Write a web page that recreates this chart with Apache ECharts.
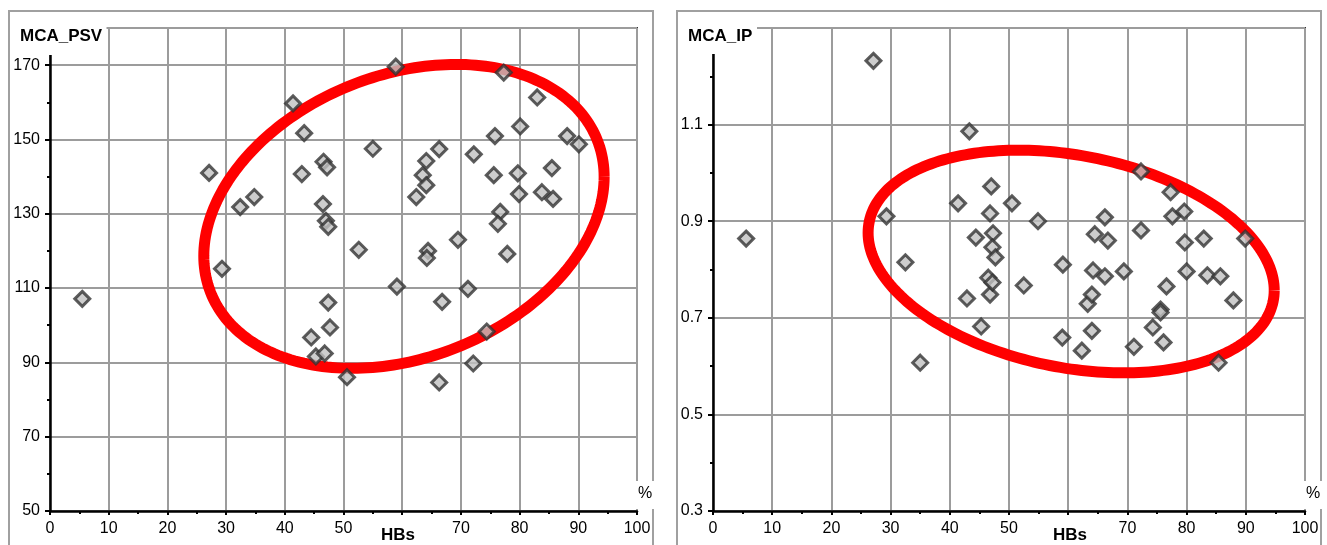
<!DOCTYPE html>
<html>
<head>
<meta charset="utf-8">
<script src="https://cdn.jsdelivr.net/npm/echarts@6/dist/echarts.min.js"></script>
<style>
  html, body { margin: 0; padding: 0; background: #fff; }
  #main { width: 1327px; height: 545px; }
</style>
</head>
<body>
<div id="main"></div>
<script>
// HBs (%) against MCA_PSV
var psvHBs = [5.5, 27.1, 29.3, 32.4, 34.8, 41.4, 43.3, 42.9, 46.6, 47.2, 46.5, 47.0, 47.4,
  47.4, 47.7, 44.5, 45.3, 46.8, 50.6, 52.6, 55.0, 58.9, 59.1, 62.4, 63.5, 64.1, 64.1, 64.4,
  64.2, 66.3, 66.8, 66.3, 69.5, 71.2, 72.2, 72.1, 74.4, 75.6, 75.8, 76.7, 76.3, 77.3, 77.9,
  79.7, 79.9, 80.1, 83.0, 83.8, 85.5, 85.7, 88.1, 90.1];
var psvValues = [107.1, 141.0, 115.2, 131.8, 134.5, 159.7, 151.7, 140.7, 144.0, 142.5, 132.6,
  128.1, 126.5, 106.1, 99.4, 96.7, 91.6, 92.4, 86.0, 120.3, 147.5, 169.6, 110.4, 134.5, 140.4,
  144.2, 137.7, 120.0, 118.1, 147.4, 106.3, 84.6, 123.0, 109.8, 146.0, 89.7, 98.3, 140.4, 150.9,
  130.5, 127.3, 168.0, 119.2, 140.9, 135.3, 153.5, 161.3, 135.8, 142.3, 134.0, 150.9, 148.7];

// HBs (%) against MCA_IP, right panel
var ipHBs = [5.6, 27.1, 29.3, 32.5, 35.0, 41.4, 43.3, 42.9, 44.4, 45.3, 46.5, 46.8, 46.8, 47.0,
  47.2, 47.3, 47.2, 47.7, 50.5, 52.5, 54.9, 59.1, 59.0, 62.3, 63.3, 64.0, 64.0, 64.2, 64.5,
  66.2, 66.2, 66.7, 69.4, 71.1, 72.3, 72.3, 74.3, 75.6, 75.6, 76.1, 76.6, 77.3, 77.6, 79.6,
  79.7, 80.0, 82.9, 83.5, 85.7, 85.4, 87.9, 89.9];
var ipValues = [0.864, 1.232, 0.910, 0.815, 0.607, 0.937, 1.086, 0.740, 0.866, 0.682, 0.783,
  0.748, 0.916, 0.972, 0.773, 0.875, 0.846, 0.825, 0.937, 0.767, 0.900, 0.810, 0.659, 0.632,
  0.729, 0.748, 0.673, 0.798, 0.873, 0.908, 0.786, 0.860, 0.796, 0.640, 0.881, 1.003, 0.680,
  0.717, 0.711, 0.649, 0.765, 0.960, 0.910, 0.920, 0.856, 0.796, 0.864, 0.788, 0.786, 0.607,
  0.736, 0.864];

// ellipse: centre x, centre y, half width, half height, correlation
var psvEllipse = [60.3, 129.3, 34.1, 40.9, 0.26];
var ipEllipse = [60.5, 0.8165, 34.3, 0.2305, -0.258];

var FONT = 'Liberation Sans, Arial, sans-serif';

function pairs(xs, ys) {
  var out = [];
  for (var i = 0; i < xs.length; i++) out.push([xs[i], ys[i]]);
  return out;
}

function drawEllipse(params, api) {
  var cx = api.value(0), cy = api.value(1), ax = api.value(2), ay = api.value(3), r = api.value(4);
  var phi = Math.acos(r);
  var pts = [];
  for (var k = 0; k <= 240; k++) {
    var t = k / 240 * Math.PI * 2;
    pts.push(api.coord([cx + ax * Math.cos(t), cy + ay * Math.cos(t - phi)]));
  }
  return {
    type: 'polyline',
    shape: { points: pts },
    style: { stroke: '#ff0000', lineWidth: 11, fill: null }
  };
}

function xAxis(idx) {
  return {
    type: 'value', gridIndex: idx, min: 0, max: 100, interval: 10,
    axisLine: { show: true, onZero: false, lineStyle: { color: '#000', width: 2.5 } },
    axisTick: { show: true, length: 4, lineStyle: { color: '#000', width: 2 } },
    minorTick: { show: true, splitNumber: 2, length: 3, lineStyle: { color: '#000', width: 2 } },
    splitLine: { show: true, lineStyle: { color: '#9c9c9c', width: 2 } },
    axisLabel: {
      fontFamily: FONT, fontSize: 16, color: '#000', margin: 10,
      formatter: function (v) { return v === 60 ? '' : String(v); }
    }
  };
}

function yAxis(idx, min, max, step, digits) {
  return {
    type: 'value', gridIndex: idx, min: min, max: max, interval: step,
    axisLine: { show: true, onZero: false, lineStyle: { color: '#000', width: 2.5 } },
    axisTick: { show: true, length: 5, lineStyle: { color: '#000', width: 2 } },
    minorTick: { show: true, splitNumber: 2, length: 3, lineStyle: { color: '#000', width: 2 } },
    splitLine: { show: true, lineStyle: { color: '#9c9c9c', width: 2 } },
    axisLabel: {
      fontFamily: FONT, fontSize: 16, color: '#000', margin: 10, showMaxLabel: false,
      formatter: function (v) { return v.toFixed(digits); }
    }
  };
}

var pointStyle = { color: '#c0c0c0', borderColor: '#333', borderWidth: 3 };

var chart = echarts.init(document.getElementById('main'));
chart.setOption({
  animation: false,
  grid: [
    { left: 50, top: 28, width: 587, height: 483, show: true, borderColor: '#333', borderWidth: 2 },
    { left: 713, top: 28, width: 592, height: 483, show: true, borderColor: '#333', borderWidth: 2 }
  ],
  xAxis: [xAxis(0), xAxis(1)],
  yAxis: [yAxis(0, 50, 180, 20, 0), yAxis(1, 0.3, 1.3, 0.2, 1)],
  series: [
    {
      type: 'custom', xAxisIndex: 0, yAxisIndex: 0, z: 1,
      encode: { x: 0, y: 1 }, renderItem: drawEllipse, data: [psvEllipse]
    },
    {
      type: 'custom', xAxisIndex: 1, yAxisIndex: 1, z: 1,
      encode: { x: 0, y: 1 }, renderItem: drawEllipse, data: [ipEllipse]
    },
    {
      type: 'scatter', xAxisIndex: 0, yAxisIndex: 0, z: 3,
      symbol: 'diamond', symbolSize: 15, itemStyle: pointStyle,
      data: pairs(psvHBs, psvValues)
    },
    {
      type: 'scatter', xAxisIndex: 1, yAxisIndex: 1, z: 3,
      symbol: 'diamond', symbolSize: 15, itemStyle: pointStyle,
      data: pairs(ipHBs, ipValues)
    }
  ],
  graphic: [
    // outer frames
    { type: 'rect', z: 99, shape: { x: 9, y: 11, width: 644, height: 560 },
      style: { fill: null, stroke: '#a0a0a0', lineWidth: 2 } },
    { type: 'rect', z: 99, shape: { x: 677, y: 11, width: 644, height: 560 },
      style: { fill: null, stroke: '#a0a0a0', lineWidth: 2 } },
    // white boxes behind the titles
    { type: 'rect', z: 100, shape: { x: 11, y: 26, width: 95.5, height: 29 }, style: { fill: '#fff' } },
    { type: 'rect', z: 100, shape: { x: 679, y: 26, width: 78, height: 28 }, style: { fill: '#fff' } },
    { type: 'rect', z: 100, shape: { x: 634, y: 481, width: 23, height: 28 }, style: { fill: '#fff' } },
    { type: 'rect', z: 100, shape: { x: 1302, y: 481, width: 23, height: 28 }, style: { fill: '#fff' } },
    // titles
    { type: 'text', z: 101, x: 20, y: 36,
      style: { text: 'MCA_PSV', font: 'bold 17px ' + FONT, fill: '#000', verticalAlign: 'middle' } },
    { type: 'text', z: 101, x: 688, y: 36,
      style: { text: 'MCA_IP', font: 'bold 17px ' + FONT, fill: '#000', verticalAlign: 'middle' } },
    { type: 'text', z: 101, x: 398, y: 535,
      style: { text: 'HBs', font: 'bold 17px ' + FONT, fill: '#000', align: 'center', verticalAlign: 'middle' } },
    { type: 'text', z: 101, x: 1070, y: 535,
      style: { text: 'HBs', font: 'bold 17px ' + FONT, fill: '#000', align: 'center', verticalAlign: 'middle' } },
    { type: 'text', z: 101, x: 645, y: 494,
      style: { text: '%', font: '16px ' + FONT, fill: '#000', align: 'center', verticalAlign: 'middle' } },
    { type: 'text', z: 101, x: 1313, y: 494,
      style: { text: '%', font: '16px ' + FONT, fill: '#000', align: 'center', verticalAlign: 'middle' } }
  ]
});
</script>
</body>
</html>
